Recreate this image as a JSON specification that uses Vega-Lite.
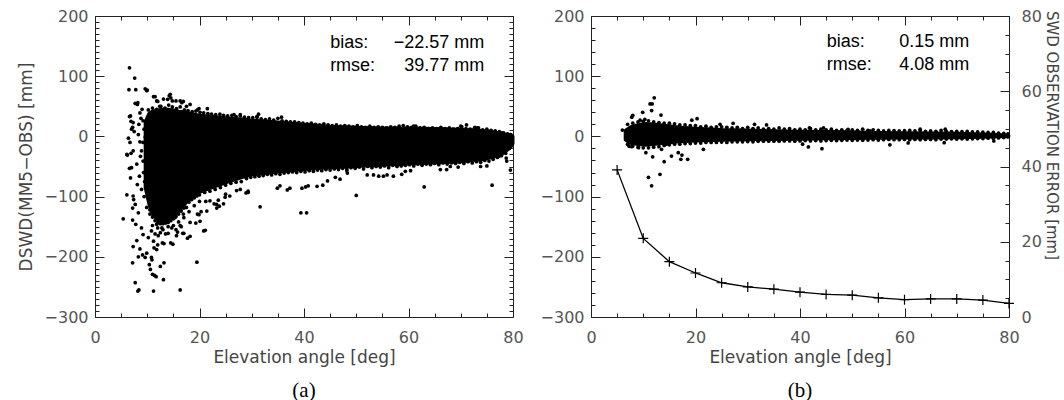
{
"$schema": "https://vega.github.io/schema/vega-lite/v6.json",
"background": "white",
"padding": {"left": 17, "top": 8, "right": 3, "bottom": 0},
"bounds": "flush",
"spacing": 78,
"config": {
 "view": {"stroke": null},
 "axis": {"labelFont": "DejaVu Sans", "labelFontSize": 16, "labelColor": "#555", "titleFont": "DejaVu Sans", "titleFontSize": 17, "titleFontWeight": "normal", "titleColor": "#444", "domainColor": "#222", "domainWidth": 1, "tickColor": "#222", "tickWidth": 1, "grid": false, "labelFlush": false, "labelOverlap": false, "ticks": true}
},
"datasets": {
 "coreA": [
  {"x":9.6,"lo":-85,"hi":24},{"x":10.3,"lo":-112,"hi":38},{"x":11,"lo":-130,"hi":42},{"x":12,"lo":-139,"hi":44},{"x":13,"lo":-141,"hi":45},{"x":14,"lo":-139,"hi":45},{"x":15,"lo":-133,"hi":44},{"x":16,"lo":-125,"hi":42},{"x":17,"lo":-115,"hi":41},{"x":18,"lo":-105,"hi":39},{"x":19,"lo":-98,"hi":37},{"x":20,"lo":-93,"hi":35},{"x":22.5,"lo":-85,"hi":33},{"x":25,"lo":-77,"hi":31},{"x":28,"lo":-69,"hi":29},{"x":30,"lo":-64,"hi":27},{"x":35,"lo":-59,"hi":24},{"x":40,"lo":-55,"hi":20},{"x":45,"lo":-52,"hi":17},{"x":50,"lo":-50,"hi":15},{"x":55,"lo":-48,"hi":14},{"x":60,"lo":-46,"hi":14},{"x":65,"lo":-44,"hi":13},{"x":70,"lo":-42,"hi":12},{"x":74,"lo":-39,"hi":10},{"x":76,"lo":-35,"hi":8},{"x":78,"lo":-29,"hi":5},{"x":79.5,"lo":-19,"hi":2},{"x":80,"lo":-12,"hi":0}
 ],
 "ptsA": [
  {"x":6.6,"y":114},{"x":7.6,"y":97},{"x":6.5,"y":77.5},{"x":7.8,"y":77.5},{"x":9.6,"y":79},{"x":9.9,"y":76},{"x":7.7,"y":55},{"x":8.1,"y":53},{"x":11.2,"y":66},{"x":12,"y":58},{"x":13.1,"y":62},{"x":14.2,"y":67.5},{"x":14.5,"y":64},{"x":15.5,"y":59},{"x":16.9,"y":58},{"x":17.5,"y":50},{"x":19.6,"y":44},{"x":19.9,"y":46},{"x":6.6,"y":33},{"x":6.9,"y":25},{"x":7.2,"y":15},{"x":7.5,"y":8},{"x":6.4,"y":-3},{"x":6.1,"y":-30},{"x":6.9,"y":-28},{"x":6.6,"y":-53},{"x":6.8,"y":-69},{"x":6.1,"y":-97},{"x":5.4,"y":-137},{"x":7.2,"y":-119},{"x":7.4,"y":-105},{"x":7.3,"y":-183},{"x":7.2,"y":-210},{"x":7.7,"y":-243},{"x":8.2,"y":-257},{"x":8.4,"y":-255},{"x":8.0,"y":-173},{"x":8.3,"y":-200},{"x":9.1,"y":-197},{"x":9.6,"y":-201},{"x":9.9,"y":-194},{"x":10.4,"y":-213},{"x":10.6,"y":-221},{"x":11.0,"y":-229},{"x":11.2,"y":-257},{"x":11.4,"y":-231},{"x":11.7,"y":-233},{"x":10.9,"y":-205},{"x":12.5,"y":-216},{"x":13.2,"y":-210},{"x":13.1,"y":-238},{"x":16.3,"y":-255},{"x":19.5,"y":-209},{"x":11.3,"y":-185},{"x":12,"y":-180},{"x":12.9,"y":-177},{"x":14.5,"y":-177},{"x":17.7,"y":-169},{"x":16.8,"y":-161},{"x":20.8,"y":-157},{"x":19.9,"y":-130},{"x":19.3,"y":-144},{"x":20.3,"y":-125},{"x":21.2,"y":-108},{"x":22.8,"y":-112},{"x":23.3,"y":-119},{"x":23.8,"y":-116},{"x":25,"y":-96},{"x":28.9,"y":-94},{"x":31.6,"y":-117},{"x":34.9,"y":-86},{"x":36.8,"y":-89},{"x":39.6,"y":-86},{"x":40.3,"y":-84},{"x":39.4,"y":-127},{"x":40.5,"y":-127},{"x":42.5,"y":-83},{"x":44.5,"y":-74},{"x":46,"y":-68},{"x":48.3,"y":-61},{"x":50,"y":-98},{"x":52.1,"y":-64},{"x":54.3,"y":-66},{"x":55.9,"y":-64},{"x":59.4,"y":-58},{"x":63,"y":-84},{"x":66.1,"y":-55},{"x":68,"y":-50},{"x":73.8,"y":-50},{"x":76,"y":-81},{"x":77.3,"y":-33},{"x":78.7,"y":-36},{"x":35,"y":30},{"x":61,"y":17},{"x":70,"y":17},{"x":73.2,"y":14},{"x":77.9,"y":6},{"x":79.5,"y":3},{"x":79.4,"y":-8},{"x":31,"y":33},{"x":26.6,"y":36},{"x":21.5,"y":46},
  {"x":14.4,"y":70},{"x":13.9,"y":61.6},{"x":14.8,"y":59},{"x":16.3,"y":59},{"x":8.2,"y":56},{"x":6.8,"y":34},{"x":7.0,"y":12},{"x":6.2,"y":-31},{"x":6.7,"y":-10},{"x":7.3,"y":23},{"x":8.6,"y":39},{"x":9.2,"y":26},{"x":8.3,"y":3},{"x":8.6,"y":-9},{"x":7.3,"y":-24},{"x":8.9,"y":-24},{"x":8.0,"y":-46},{"x":7.0,"y":-52},{"x":9.2,"y":-41},{"x":9.9,"y":-19},{"x":10.2,"y":9},{"x":9.6,"y":-1},{"x":12.4,"y":50},{"x":11.8,"y":59},{"x":16.6,"y":56},{"x":18.2,"y":53},{"x":11.5,"y":66},{"x":10.0,"y":77},
  {"x":8.8,"y":30},{"x":9.4,"y":12},{"x":8.7,"y":-33},{"x":9.3,"y":-60},{"x":9.5,"y":-75},{"x":8.9,"y":-88},{"x":9.4,"y":-100},{"x":8.5,"y":-66},{"x":9.0,"y":45},{"x":8.4,"y":20},{"x":9.2,"y":-10},{"x":8.1,"y":-80},
  {"x":7.2,"y":-139},{"x":7.7,"y":-113},{"x":7.3,"y":-99},{"x":8.3,"y":-127},{"x":7.8,"y":-146},{"x":8.9,"y":-152},{"x":9.2,"y":-163},{"x":8.6,"y":-187},{"x":10.8,"y":-201},{"x":14.9,"y":-179},{"x":13.2,"y":-178},{"x":11.8,"y":-188},{"x":10.2,"y":-168},{"x":11.2,"y":-174},{"x":12.1,"y":-165},{"x":14,"y":-161},{"x":15.6,"y":-165},{"x":15.8,"y":-159},{"x":17,"y":-161},{"x":18.2,"y":-166},{"x":14.7,"y":-152},{"x":16.3,"y":-148},{"x":18.2,"y":-143},{"x":20.1,"y":-141},{"x":21.1,"y":-156},{"x":19.6,"y":-129},{"x":21.4,"y":-124},{"x":23.3,"y":-113},{"x":24.6,"y":-112},{"x":24.9,"y":-101},{"x":25.8,"y":-99},{"x":23.6,"y":-106},{"x":22,"y":-107},{"x":29.3,"y":-91},{"x":27.1,"y":-90},{"x":17.5,"y":-118},{"x":10.5,"y":-129},{"x":9.9,"y":-118},{"x":11.8,"y":-124},{"x":13.1,"y":-135},{"x":15.3,"y":-135},{"x":16.9,"y":-129},{"x":14,"y":-143},{"x":11.8,"y":-146},{"x":12.8,"y":-152},{"x":10.8,"y":-157},
  {"x":10.5,"y":-122},{"x":11,"y":-134},{"x":11.5,"y":-140},{"x":12,"y":-143},{"x":12.5,"y":-145},{"x":13,"y":-145},{"x":13.5,"y":-144},{"x":14.5,"y":-140},{"x":15,"y":-137},{"x":15.5,"y":-133},{"x":16,"y":-129},{"x":16.5,"y":-124},{"x":17,"y":-119},{"x":18,"y":-109},{"x":18.5,"y":-105},{"x":19,"y":-102},{"x":19.5,"y":-99},{"x":20,"y":-97},{"x":21,"y":-93},{"x":22,"y":-91},{"x":23,"y":-88},{"x":24,"y":-85},{"x":25,"y":-81},{"x":26,"y":-78},{"x":27,"y":-76},{"x":28,"y":-75},
  {"x":11,"y":-148},{"x":12,"y":-152},{"x":13,"y":-155},{"x":14,"y":-150},{"x":15,"y":-148},{"x":16,"y":-142},{"x":17,"y":-135},{"x":18,"y":-125},{"x":19,"y":-115},{"x":20,"y":-108},{"x":12.5,"y":-160},{"x":13.5,"y":-162},{"x":11.5,"y":-162},{"x":15.5,"y":-155},{"x":16.5,"y":-150},
  {"x":27.8,"y":-88},{"x":29.3,"y":-93},{"x":35.4,"y":-82},{"x":37.3,"y":-86},{"x":40.8,"y":-82},{"x":43.6,"y":-81},{"x":46.9,"y":-71},{"x":48.2,"y":-57},{"x":53.3,"y":-64},{"x":55.2,"y":-66},{"x":57.1,"y":-66},{"x":58.7,"y":-63},{"x":60.4,"y":-57},{"x":67.3,"y":-55},{"x":69.5,"y":-51},{"x":75,"y":-49},{"x":78.8,"y":-41},{"x":79.5,"y":-56},{"x":78.8,"y":-8},{"x":27.8,"y":36},{"x":31.3,"y":37},{"x":35.7,"y":32},{"x":71.1,"y":19},{"x":72.7,"y":15},
  {"x":10.2,"y":44},{"x":11,"y":47},{"x":11.8,"y":45},{"x":12.6,"y":50},{"x":13.4,"y":47},{"x":14.1,"y":52},{"x":14.8,"y":49},{"x":15.6,"y":46},{"x":16.3,"y":49},{"x":17.1,"y":44},{"x":17.8,"y":43},{"x":18.6,"y":41},{"x":19.3,"y":42},{"x":20.1,"y":40},{"x":20.8,"y":39},{"x":21.6,"y":38},{"x":22.3,"y":37},{"x":23.1,"y":36},{"x":23.9,"y":37},{"x":24.6,"y":35},{"x":25.4,"y":34},{"x":26.2,"y":35},{"x":27,"y":33},{"x":27.8,"y":34},{"x":28.6,"y":32},{"x":29.4,"y":31},{"x":30.2,"y":31},{"x":31,"y":32},{"x":31.8,"y":29},{"x":32.6,"y":28},{"x":33.4,"y":29},{"x":34.2,"y":27},{"x":35.8,"y":26},{"x":36.6,"y":25},{"x":37.4,"y":24},{"x":38.2,"y":24},{"x":39,"y":23},{"x":39.8,"y":22},{"x":40.6,"y":21},{"x":41.4,"y":22},{"x":42.2,"y":20},{"x":43,"y":19},{"x":43.8,"y":21},{"x":44.6,"y":19},{"x":45.4,"y":18},{"x":46.2,"y":19},{"x":47,"y":17},{"x":47.8,"y":18},{"x":48.6,"y":17},{"x":49.4,"y":16},{"x":50.2,"y":18},{"x":51,"y":16},{"x":51.8,"y":15},{"x":52.6,"y":17},{"x":53.4,"y":15},{"x":54.2,"y":16},{"x":55,"y":15},{"x":55.8,"y":14},{"x":56.6,"y":16},{"x":57.4,"y":15},{"x":58.2,"y":17},{"x":59,"y":18},{"x":59.8,"y":16},{"x":60.6,"y":15},{"x":61.4,"y":17},{"x":62.2,"y":14},{"x":63,"y":15},{"x":63.8,"y":13},{"x":64.6,"y":14},{"x":65.4,"y":13},{"x":66.2,"y":15},{"x":67,"y":13},{"x":67.8,"y":14},{"x":68.6,"y":12},{"x":69.4,"y":13},{"x":70.2,"y":16},{"x":71,"y":13},{"x":71.8,"y":12},{"x":72.6,"y":13},{"x":73.4,"y":14},{"x":74.2,"y":11},{"x":75,"y":12},{"x":75.8,"y":10},{"x":76.6,"y":9},{"x":77.4,"y":8},{"x":78.2,"y":6},{"x":79,"y":4},{"x":79.6,"y":3},
  {"x":29,"y":-70},{"x":29.8,"y":-68},{"x":30.6,"y":-67},{"x":31.4,"y":-66},{"x":32.2,"y":-65},{"x":33,"y":-63},{"x":33.8,"y":-64},{"x":34.6,"y":-62},{"x":35.4,"y":-63},{"x":36.2,"y":-61},{"x":37,"y":-60},{"x":37.8,"y":-59},{"x":38.6,"y":-60},{"x":39.4,"y":-58},{"x":40.2,"y":-59},{"x":41,"y":-57},{"x":41.8,"y":-58},{"x":42.6,"y":-56},{"x":43.4,"y":-57},{"x":44.2,"y":-55},{"x":45,"y":-56},{"x":45.8,"y":-54},{"x":46.6,"y":-55},{"x":47.4,"y":-53},{"x":48.2,"y":-54},{"x":49,"y":-52},{"x":49.8,"y":-53},{"x":50.6,"y":-51},{"x":51.4,"y":-54},{"x":52.2,"y":-50},{"x":53,"y":-52},{"x":53.8,"y":-50},{"x":54.6,"y":-51},{"x":55.4,"y":-49},{"x":56.2,"y":-52},{"x":57,"y":-48},{"x":57.8,"y":-50},{"x":58.6,"y":-49},{"x":59.4,"y":-48},{"x":60.2,"y":-47},{"x":61,"y":-49},{"x":61.8,"y":-46},{"x":62.6,"y":-48},{"x":63.4,"y":-46},{"x":64.2,"y":-47},{"x":65,"y":-45},{"x":65.8,"y":-47},{"x":66.6,"y":-44},{"x":67.4,"y":-46},{"x":68.2,"y":-44},{"x":69,"y":-45},{"x":69.8,"y":-43},{"x":70.6,"y":-45},{"x":71.4,"y":-42},{"x":72.2,"y":-44},{"x":73,"y":-42},{"x":73.8,"y":-43},{"x":74.6,"y":-40},{"x":75.4,"y":-41},{"x":76.2,"y":-38},{"x":77,"y":-35},{"x":77.8,"y":-32},{"x":78.6,"y":-28},{"x":79.3,"y":-20},{"x":79.8,"y":-10}
 ],
 "coreB": [
  {"x":6.5,"lo":-6,"hi":10},{"x":7.5,"lo":-12,"hi":16},{"x":9,"lo":-14,"hi":20},{"x":10.5,"lo":-15,"hi":22},{"x":12,"lo":-14,"hi":21},{"x":14,"lo":-12,"hi":19},{"x":16,"lo":-10,"hi":17},{"x":18,"lo":-9,"hi":15},{"x":20,"lo":-8,"hi":14},{"x":25,"lo":-7,"hi":12},{"x":30,"lo":-6,"hi":11},{"x":35,"lo":-5.5,"hi":10},{"x":40,"lo":-5,"hi":9},{"x":45,"lo":-4.5,"hi":8.5},{"x":50,"lo":-4,"hi":8},{"x":55,"lo":-3.5,"hi":7},{"x":60,"lo":-3,"hi":6.5},{"x":65,"lo":-3,"hi":6},{"x":70,"lo":-2.5,"hi":5.5},{"x":75,"lo":-2,"hi":4.5},{"x":78,"lo":-1,"hi":3.5},{"x":80,"lo":-0.5,"hi":2.5}
 ],
 "ptsB": [
  {"x":6.0,"y":10.6},{"x":12.1,"y":64},{"x":11.3,"y":54},{"x":11.7,"y":54},{"x":11.6,"y":43},{"x":9.9,"y":40},{"x":8.0,"y":35},{"x":7.8,"y":32},{"x":13.4,"y":35.5},{"x":9.4,"y":27},{"x":10.3,"y":28.4},{"x":20.3,"y":29.4},{"x":19.3,"y":27},{"x":27.2,"y":21.8},{"x":31.3,"y":20},{"x":33.6,"y":19},{"x":24.7,"y":20},{"x":7.3,"y":-16.5},{"x":7.8,"y":-17},{"x":9.1,"y":-18.8},{"x":10.5,"y":-27},{"x":11.8,"y":-34},{"x":14,"y":-42},{"x":13.2,"y":-63},{"x":11,"y":-68},{"x":11.6,"y":-82},{"x":15.4,"y":-32.6},{"x":16.7,"y":-27},{"x":17.4,"y":-31},{"x":17.2,"y":-38},{"x":18.5,"y":-38},{"x":21.5,"y":-21.5},{"x":13.5,"y":-21.5},{"x":14.5,"y":-13},{"x":40.5,"y":-13},{"x":41.6,"y":-17.6},{"x":44.2,"y":-20.4},{"x":57.2,"y":-14},{"x":60.7,"y":-10.8},{"x":67.6,"y":-10.5},{"x":77.1,"y":-7.6},{"x":44.5,"y":14},{"x":41.8,"y":14},{"x":49.2,"y":11.7},{"x":53.4,"y":9},{"x":63,"y":12},{"x":67.8,"y":12},
  {"x":7,"y":20},{"x":8,"y":22},{"x":9,"y":24},{"x":10,"y":25},{"x":11,"y":26},{"x":12,"y":24},{"x":13,"y":23},{"x":14,"y":22},{"x":15,"y":22},{"x":16,"y":21},{"x":17,"y":19},{"x":18,"y":19},{"x":19,"y":18},{"x":20,"y":18},{"x":21,"y":16},{"x":22,"y":17},{"x":23,"y":15},{"x":24,"y":16},{"x":25,"y":16},{"x":26,"y":15},{"x":27,"y":14},{"x":28,"y":15},{"x":29,"y":13},{"x":30,"y":15},{"x":31,"y":13},{"x":32,"y":14},{"x":33,"y":12},{"x":34,"y":13},{"x":35,"y":12},{"x":36,"y":14},{"x":37,"y":12},{"x":38,"y":13},{"x":39,"y":11},{"x":40,"y":12},{"x":41,"y":11},{"x":42,"y":13},{"x":43,"y":11},{"x":44,"y":12},{"x":45,"y":11},{"x":46,"y":12},{"x":47,"y":10},{"x":48,"y":11},{"x":49,"y":10},{"x":50,"y":11},{"x":51,"y":10},{"x":52,"y":12},{"x":53,"y":10},{"x":54,"y":11},{"x":55,"y":10},{"x":56,"y":9},{"x":57,"y":10},{"x":58,"y":9.5},{"x":59,"y":9},{"x":60,"y":9.5},{"x":61,"y":10},{"x":62,"y":9},{"x":63,"y":9.5},{"x":64,"y":8.5},{"x":65,"y":9},{"x":66,"y":8.5},{"x":67,"y":10},{"x":68,"y":8.5},{"x":69,"y":8},{"x":70,"y":8.5},{"x":71,"y":8},{"x":72,"y":8.5},{"x":73,"y":7.5},{"x":74,"y":7.5},{"x":75,"y":7},{"x":76,"y":6.5},{"x":77,"y":6.5},{"x":78,"y":5.5},{"x":79,"y":5},{"x":79.8,"y":4},
  {"x":7,"y":-13},{"x":8,"y":-16},{"x":9,"y":-18},{"x":10,"y":-19},{"x":11,"y":-19},{"x":12,"y":-18},{"x":13,"y":-17},{"x":14,"y":-15},{"x":15,"y":-14},{"x":16,"y":-13},{"x":17,"y":-13},{"x":18,"y":-12},{"x":19,"y":-12},{"x":20,"y":-11},{"x":21,"y":-11},{"x":22,"y":-10},{"x":23,"y":-10},{"x":24,"y":-10},{"x":25,"y":-9.5},{"x":26,"y":-10},{"x":27,"y":-9},{"x":28,"y":-9},{"x":29,"y":-9},{"x":30,"y":-8.5},{"x":31,"y":-9},{"x":32,"y":-8},{"x":33,"y":-8},{"x":34,"y":-8},{"x":35,"y":-8},{"x":36,"y":-8},{"x":37,"y":-7.5},{"x":38,"y":-7.5},{"x":39,"y":-8},{"x":40,"y":-7.5},{"x":41,"y":-7},{"x":42,"y":-7.5},{"x":43,"y":-7},{"x":44,"y":-7.5},{"x":45,"y":-7},{"x":46,"y":-6.5},{"x":47,"y":-7},{"x":48,"y":-6.5},{"x":49,"y":-6},{"x":50,"y":-6.5},{"x":51,"y":-6},{"x":52,"y":-6.5},{"x":53,"y":-6},{"x":54,"y":-5.5},{"x":55,"y":-6},{"x":56,"y":-5.5},{"x":57,"y":-5},{"x":58,"y":-5.5},{"x":59,"y":-5.5},{"x":60,"y":-5},{"x":61,"y":-5.5},{"x":62,"y":-5},{"x":63,"y":-5.5},{"x":64,"y":-5},{"x":65,"y":-5},{"x":66,"y":-5.5},{"x":67,"y":-4.5},{"x":68,"y":-4.5},{"x":69,"y":-4},{"x":70,"y":-4.5},{"x":71,"y":-4},{"x":72,"y":-4.5},{"x":73,"y":-4},{"x":74,"y":-3.5},{"x":75,"y":-3.5},{"x":76,"y":-3},{"x":77,"y":-3},{"x":78,"y":-2.5},{"x":79,"y":-2},{"x":79.8,"y":-1}
 ],
 "errB": [
  {"x":5,"err":39.1},{"x":10,"err":20.9},{"x":15,"err":14.7},{"x":20,"err":11.7},{"x":25,"err":9.1},{"x":30,"err":8.0},{"x":35,"err":7.4},{"x":40,"err":6.6},{"x":45,"err":6.0},{"x":50,"err":5.8},{"x":55,"err":5.1},{"x":60,"err":4.6},{"x":65,"err":4.8},{"x":70,"err":4.8},{"x":75,"err":4.5},{"x":80,"err":3.6}
 ],
 "labA": [{"x":45,"y":155,"t":"bias:"},{"x":45,"y":117,"t":"rmse:"}],
 "valA": [{"x":74.5,"y":155,"t":"−22.57 mm"},{"x":74.5,"y":117,"t":"39.77 mm"}],
 "labB": [{"x":45.1,"y":157,"t":"bias:"},{"x":45.1,"y":118,"t":"rmse:"}],
 "valB": [{"x":72.4,"y":157,"t":"0.15 mm"},{"x":72.4,"y":118,"t":"4.08 mm"}]
},
"hconcat": [
 {
  "width": 418, "height": 301,
  "title": {"text": "(a)", "orient": "bottom", "anchor": "middle", "font": "Liberation Serif", "fontSize": 21, "fontWeight": "normal", "color": "black", "offset": 15},
  "layer": [
   {"data": {"name": "coreA"}, "mark": {"type": "area", "color": "black", "stroke": "black", "strokeWidth": 3, "strokeJoin": "round"},
    "encoding": {
     "x": {"field": "x", "type": "quantitative", "scale": {"domain": [0, 80], "nice": false, "zero": false},
      "axis": {"orient": "bottom", "title": "Elevation angle [deg]", "values": [0,20,40,60,80], "tickSize": -9, "labelPadding": 21, "titlePadding": 4}},
     "y": {"field": "lo", "type": "quantitative", "scale": {"domain": [-300, 200], "nice": false, "zero": false},
      "axis": {"orient": "left", "title": "DSWD(MM5−OBS) [mm]", "values": [-300,-200,-100,0,100,200], "tickSize": -9, "labelPadding": 16, "titlePadding": 9}},
     "y2": {"field": "hi"}
    }},
   {"data": {"name": "ptsA"}, "mark": {"type": "point", "filled": true, "shape": "circle", "size": 14, "color": "black", "opacity": 1},
    "encoding": {
     "x": {"field": "x", "type": "quantitative", "scale": {"domain": [0, 80], "nice": false, "zero": false},
      "axis": {"orient": "top", "title": null, "labels": false, "values": [0,20,40,60,80], "tickSize": -9}},
     "y": {"field": "y", "type": "quantitative", "scale": {"domain": [-300, 200], "nice": false, "zero": false},
      "axis": {"orient": "right", "title": null, "labels": false, "values": [-300,-200,-100,0,100,200], "tickSize": -9}}
    }},
   {"data": {"name": "labA"}, "mark": {"type": "text", "align": "left", "baseline": "middle", "font": "Liberation Sans", "fontSize": 18, "color": "black"},
    "encoding": {
     "x": {"field": "x", "type": "quantitative", "scale": {"domain": [0, 80], "nice": false, "zero": false},
      "axis": {"orient": "bottom", "title": null, "labels": false, "domain": false, "tickSize": -4, "values": [5,10,15,25,30,35,45,50,55,65,70,75]}},
     "y": {"field": "y", "type": "quantitative", "scale": {"domain": [-300, 200], "nice": false, "zero": false},
      "axis": {"orient": "left", "title": null, "labels": false, "domain": false, "tickSize": -4, "values": [-290,-280,-270,-260,-250,-240,-230,-220,-210,-190,-180,-170,-160,-150,-140,-130,-120,-110,-90,-80,-70,-60,-50,-40,-30,-20,-10,10,20,30,40,50,60,70,80,90,110,120,130,140,150,160,170,180,190]}},
     "text": {"field": "t"}}},
   {"data": {"name": "valA"}, "mark": {"type": "text", "align": "right", "baseline": "middle", "font": "Liberation Sans", "fontSize": 18, "color": "black"},
    "encoding": {
     "x": {"field": "x", "type": "quantitative", "scale": {"domain": [0, 80], "nice": false, "zero": false},
      "axis": {"orient": "top", "title": null, "labels": false, "domain": false, "tickSize": -4, "values": [5,10,15,25,30,35,45,50,55,65,70,75]}},
     "y": {"field": "y", "type": "quantitative", "scale": {"domain": [-300, 200], "nice": false, "zero": false},
      "axis": {"orient": "right", "title": null, "labels": false, "domain": false, "tickSize": -4, "values": [-290,-280,-270,-260,-250,-240,-230,-220,-210,-190,-180,-170,-160,-150,-140,-130,-120,-110,-90,-80,-70,-60,-50,-40,-30,-20,-10,10,20,30,40,50,60,70,80,90,110,120,130,140,150,160,170,180,190]}},
     "text": {"field": "t"}}}
  ],
  "resolve": {"axis": {"x": "independent", "y": "independent"}}
 },
 {
  "width": 418, "height": 301,
  "title": {"text": "(b)", "orient": "bottom", "anchor": "middle", "font": "Liberation Serif", "fontSize": 21, "fontWeight": "normal", "color": "black", "offset": 15},
  "layer": [
   {"data": {"name": "coreB"}, "mark": {"type": "area", "color": "black", "stroke": "black", "strokeWidth": 2.5, "strokeJoin": "round"},
    "encoding": {
     "x": {"field": "x", "type": "quantitative", "scale": {"domain": [0, 80], "nice": false, "zero": false},
      "axis": {"orient": "bottom", "title": "Elevation angle [deg]", "values": [0,20,40,60,80], "tickSize": -9, "labelPadding": 21, "titlePadding": 4}},
     "y": {"field": "lo", "type": "quantitative", "scale": {"domain": [-300, 200], "nice": false, "zero": false},
      "axis": {"orient": "left", "title": null, "values": [-300,-200,-100,0,100,200], "tickSize": -9, "labelPadding": 16}},
     "y2": {"field": "hi"}
    }},
   {"data": {"name": "ptsB"}, "mark": {"type": "point", "filled": true, "shape": "circle", "size": 14, "color": "black", "opacity": 1},
    "encoding": {
     "x": {"field": "x", "type": "quantitative", "scale": {"domain": [0, 80], "nice": false, "zero": false},
      "axis": {"orient": "top", "title": null, "labels": false, "values": [0,20,40,60,80], "tickSize": -9}},
     "y": {"field": "y", "type": "quantitative", "scale": {"domain": [-300, 200], "nice": false, "zero": false},
      "axis": {"orient": "left", "title": null, "labels": false, "domain": false, "tickSize": -4, "values": [-280,-260,-240,-220,-180,-160,-140,-120,-80,-60,-40,-20,20,40,60,80,120,140,160,180]}}
    }},
   {"data": {"name": "errB"}, "mark": {"type": "line", "color": "black", "strokeWidth": 1.3},
    "encoding": {
     "x": {"field": "x", "type": "quantitative", "scale": {"domain": [0, 80], "nice": false, "zero": false},
      "axis": {"orient": "top", "title": null, "labels": false, "domain": false, "tickSize": -4, "values": [5,10,15,25,30,35,45,50,55,65,70,75]}},
     "y": {"field": "err", "type": "quantitative", "scale": {"domain": [0, 80], "nice": false, "zero": false},
      "axis": {"orient": "right", "title": "SWD OBSERVATION ERROR [mm]", "titleFontSize": 15, "titleY": 119, "values": [0,20,40,60,80], "tickSize": -9, "labelPadding": 21, "titlePadding": 2}}
    }},
   {"data": {"name": "errB"}, "mark": {"type": "point", "shape": "M-1,0H1M0,-1V1", "size": 100, "filled": false, "color": "black", "strokeWidth": 1.2, "opacity": 1},
    "encoding": {
     "x": {"field": "x", "type": "quantitative", "scale": {"domain": [0, 80], "nice": false, "zero": false},
      "axis": {"orient": "bottom", "title": null, "labels": false, "domain": false, "tickSize": -4, "values": [5,10,15,25,30,35,45,50,55,65,70,75]}},
     "y": {"field": "err", "type": "quantitative", "scale": {"domain": [0, 80], "nice": false, "zero": false},
      "axis": {"orient": "right", "title": null, "labels": false, "domain": false, "tickSize": -4, "values": [5,10,15,25,30,35,45,50,55,65,70,75]}}
    }},
   {"data": {"name": "labB"}, "mark": {"type": "text", "align": "left", "baseline": "middle", "font": "Liberation Sans", "fontSize": 18, "color": "black"},
    "encoding": {"x": {"field": "x", "type": "quantitative", "axis": null}, "y": {"field": "y", "type": "quantitative", "scale": {"domain": [-300, 200], "nice": false, "zero": false}, "axis": null}, "text": {"field": "t"}}},
   {"data": {"name": "valB"}, "mark": {"type": "text", "align": "right", "baseline": "middle", "font": "Liberation Sans", "fontSize": 18, "color": "black"},
    "encoding": {"x": {"field": "x", "type": "quantitative", "axis": null}, "y": {"field": "y", "type": "quantitative", "scale": {"domain": [-300, 200], "nice": false, "zero": false}, "axis": null}, "text": {"field": "t"}}}
  ],
  "resolve": {"scale": {"y": "independent"}, "axis": {"x": "independent", "y": "independent"}}
 }
]
}
